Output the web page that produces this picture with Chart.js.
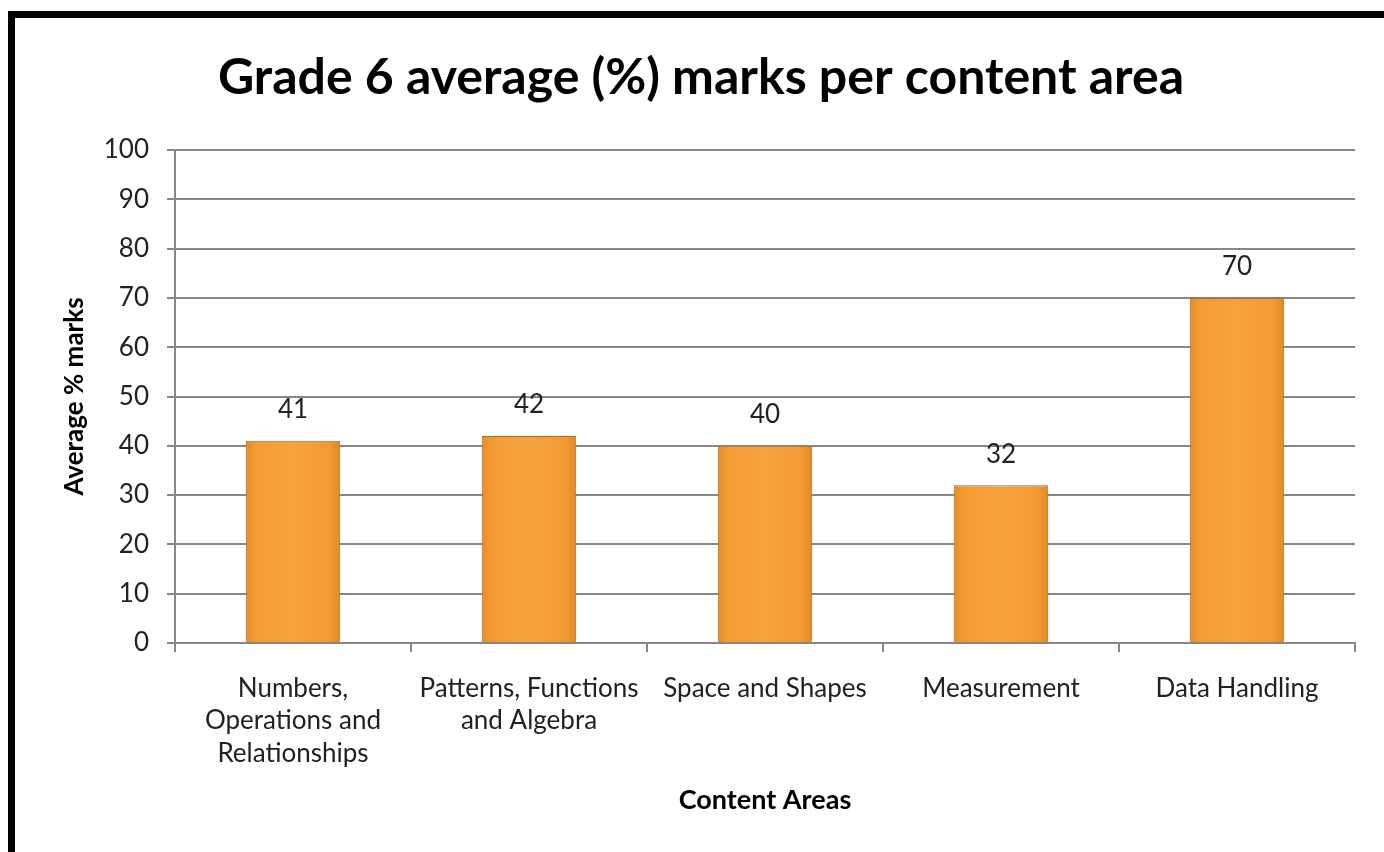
<!DOCTYPE html>
<html>
<head>
<meta charset="utf-8">
<script src="https://cdn.jsdelivr.net/npm/chart.js@4/dist/chart.umd.min.js"></script>
<style>
  html, body { margin: 0; padding: 0; background: #fff; }
  #wrap { position: relative; width: 1384px; height: 852px; overflow: hidden; }
  #frame {
    position: absolute; left: 8px; top: 11px; right: -20px; bottom: -20px;
    border-top: 7px solid #000; border-left: 7px solid #000;
    pointer-events: none;
  }
</style>
</head>
<body>
<div id="wrap">
  <canvas id="gradeChart" width="1384" height="852"></canvas>
  <div id="frame"></div>
</div>
<script>
'use strict';

// chart data
const categories = [
  ['Numbers,', 'Operations and', 'Relationships'],
  ['Patterns, Functions', 'and Algebra'],
  'Space and Shapes',
  'Measurement',
  'Data Handling'
];
const averageMarks = [41, 42, 40, 32, 70];
const yTicks = [0, 10, 20, 30, 40, 50, 60, 70, 80, 90, 100];

const FONT = 'Lato, "Open Sans", sans-serif';
const GRID = '#8c8585';

// bar fill: orange with slightly darker edges
function barFill(context) {
  const chart = context.chart;
  const x = chart.scales.x;
  if (!x || !chart.chartArea) return '#f39c34';
  const center = x.getPixelForValue(context.dataIndex);
  const half = x.width / categories.length * 0.2;
  const g = chart.ctx.createLinearGradient(center - half, 0, center + half, 0);
  g.addColorStop(0, '#e88d24');
  g.addColorStop(0.12, '#f39c36');
  g.addColorStop(0.5, '#f6a33e');
  g.addColorStop(0.88, '#f29a34');
  g.addColorStop(1, '#e38a22');
  return g;
}

// value labels above the bars
const valueLabels = {
  id: 'valueLabels',
  afterDatasetsDraw(chart) {
    const ctx = chart.ctx;
    const meta = chart.getDatasetMeta(0);
    ctx.save();
    ctx.font = '26px ' + FONT;
    ctx.fillStyle = '#222';
    ctx.textAlign = 'center';
    ctx.textBaseline = 'middle';
    meta.data.forEach((bar, i) => {
      ctx.fillText(String(averageMarks[i]), bar.x, bar.y - 31);
    });
    ctx.restore();
  }
};

// the title sits a bit right of the page centre in the original
const titleShift = {
  id: 'titleShift',
  afterLayout(chart) {
    if (chart.titleBlock) chart.titleBlock.left += 47;
  }
};

const ctx = document.getElementById('gradeChart').getContext('2d');
new Chart(ctx, {
  type: 'bar',
  data: {
    labels: categories,
    datasets: [{
      data: averageMarks,
      backgroundColor: barFill,
      borderColor: '#b5691e',
      borderWidth: 1,
      categoryPercentage: 0.4,
      barPercentage: 1.0
    }]
  },
  options: {
    responsive: false,
    animation: false,
    layout: { padding: { left: 0, right: 29, top: 0, bottom: 0 } },
    plugins: {
      legend: { display: false },
      tooltip: { enabled: false },
      title: {
        display: true,
        text: 'Grade 6 average (%) marks per content area',
        color: '#000',
        font: { family: FONT, size: 50, weight: 'bold' },
        padding: { top: 48, bottom: 42 }
      }
    },
    scales: {
      y: {
        min: 0,
        max: 100,
        afterBuildTicks(scale) {
          scale.ticks = yTicks.map(v => ({ value: v }));
        },
        afterFit(scale) { scale.width = 175; },
        grid: { color: GRID, lineWidth: 2, tickLength: 8, tickColor: GRID },
        border: { color: GRID, width: 2 },
        ticks: { color: '#222', padding: 18, font: { family: FONT, size: 26 } },
        title: {
          display: true,
          text: 'Average % marks',
          color: '#000',
          font: { family: FONT, size: 26, weight: 'bold' },
          padding: { top: 59, bottom: 0 }
        }
      },
      x: {
        afterFit(scale) { scale.height = 852 - 643; },
        grid: { drawOnChartArea: false, color: GRID, lineWidth: 2, tickLength: 9, tickColor: GRID },
        border: { color: GRID, width: 2 },
        ticks: { color: '#222', padding: 20, maxRotation: 0, autoSkip: false, font: { family: FONT, size: 26, lineHeight: 1.25 } },
        title: {
          display: true,
          text: 'Content Areas',
          color: '#000',
          font: { family: FONT, size: 27, weight: 'bold' },
          padding: { top: 0, bottom: 36 }
        }
      }
    }
  },
  plugins: [valueLabels, titleShift]
});
</script>
</body>
</html>
